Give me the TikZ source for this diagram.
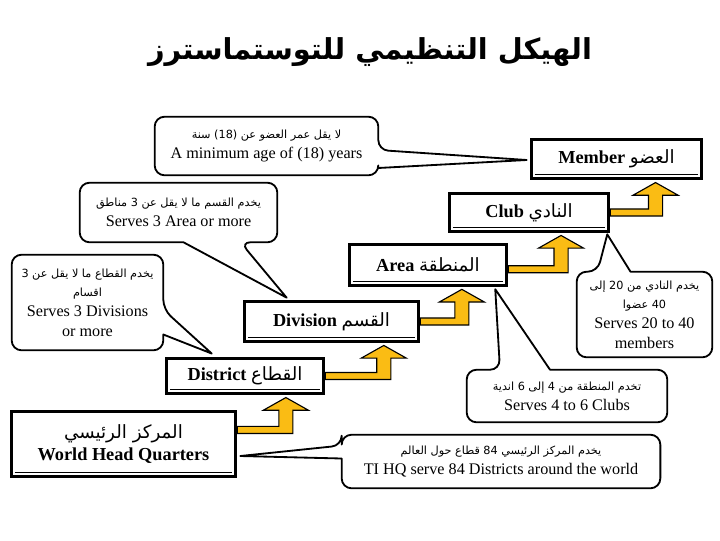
\documentclass[tikz,border=0pt]{standalone}
\usepackage{fontspec}
\setmainfont{Liberation Serif}
\newfontfamily\arabicfont[Script=Arabic]{DejaVu Sans}
\TeXXeTstate=1
\usetikzlibrary{calc}
\definecolor{tmgold}{RGB}{250,188,20}
\newcommand{\artext}[1]{{\arabicfont\beginR #1\endR}}
\newcommand{\arsmall}[1]{{\fontsize{8}{10}\selectfont\arabicfont\beginR #1\endR}}
% L-shaped block arrow: start point, target node, distance of the shaft from the target's right side
\newcommand{\goldarrow}[3]{%
  \filldraw[goldshaft] let \p1=#1, \p2=([xshift=-#3]#2.south east) in
    (\x1,\y1+2.5pt) -- (\x2-5pt,\y1+2.5pt) -- (\x2-5pt,\y2-10.5pt) -- (\x2-16pt,\y2-10.5pt)
    -- (\x2,\y2-1.5pt) -- (\x2+16pt,\y2-10.5pt) -- (\x2+5pt,\y2-10.5pt) -- (\x2+5pt,\y1-2.5pt)
    -- (\x1,\y1-2.5pt) -- cycle;}

\begin{document}
\begin{tikzpicture}[x=0.025cm,y=-0.025cm,
    rank/.style={draw,line width=2.6pt,fill=white,inner sep=2pt,align=center,
      font=\fontsize{13}{16}\selectfont},
    note/.style={inner sep=2pt,align=center,font=\fontsize{11.5}{14}\selectfont},
    bubble/.style={line width=1.3pt,line join=round},
    goldshaft/.style={fill=tmgold,draw=black,line width=0.8pt,line join=miter}]
  \useasboundingbox (0,0) rectangle (720,540);

  \node (title) at (370,52) {\fontsize{20.5}{24}\selectfont\bfseries\artext{الهيكل التنظيمي للتوستماسترز}};

  % the ranks
  \node[rank,minimum width=4.25cm,minimum height=0.98cm] (member) at (616.5,159) {\textbf{Member} \artext{العضو}};
  \node[rank,minimum width=3.97cm,minimum height=0.95cm] (club) at (529,212.5) {\textbf{Club} \artext{النادي}};
  \node[rank,minimum width=3.92cm,minimum height=1.02cm] (area) at (428,265) {\textbf{Area} \artext{المنطقة}};
  \node[rank,minimum width=4.35cm,minimum height=1.0cm] (div) at (331.5,321.5) {\textbf{Division} \artext{القسم}};
  \node[rank,minimum width=3.92cm,minimum height=0.88cm] (dist) at (245,376) {\textbf{District} \artext{القطاع}};
  \node[rank,minimum width=5.6cm,minimum height=1.62cm] (hq) at (123.5,444) {\artext{المركز الرئيسي}\\\textbf{World Head Quarters}};
  \foreach \b in {member,club,area,div,dist,hq}
    \draw[line width=0.5pt] ($(\b.south west)+(5,-6)$) -- ($(\b.south east)+(-5,-6)$);

  % the notes
  \node[note,minimum width=5.575cm,minimum height=1.45cm] (membernote) at (266.5,146)
    {\arsmall{لا يقل عمر العضو عن (18) سنة}\\A minimum age of (18) years};
  \node[note,minimum width=4.925cm,minimum height=1.475cm] (divnote) at (178.5,212.5)
    {\arsmall{يخدم القسم ما لا يقل عن 3 مناطق}\\Serves 3 Area or more};
  \node[note,minimum width=3.775cm,minimum height=2.375cm] (distnote) at (87.5,302.5)
    {\arsmall{يخدم القطاع ما لا يقل عن 3}\\\arsmall{اقسام}\\Serves 3 Divisions\\or more};
  \node[note,minimum width=3.375cm,minimum height=2.125cm] (clubnote) at (644.5,314.5)
    {\arsmall{يخدم النادي من 20 إلى}\\\arsmall{40 عضوا}\\Serves 20 to 40\\members};
  \node[note,minimum width=5.0cm,minimum height=1.3cm] (areanote) at (567,396)
    {\arsmall{تخدم المنطقة من 4 إلى 6 اندية}\\Serves 4 to 6 Clubs};
  \node[note,minimum width=7.95cm,minimum height=1.325cm] (hqnote) at (501,461.5)
    {\arsmall{يخدم المركز الرئيسي 84 قطاع حول العالم}\\TI HQ serve 84 Districts around the world};

  % bubbles
  \draw[bubble,rounded corners=7pt] (membernote.north) -- (membernote.north east) -- ($(membernote.east)+(0,4)$)
    [sharp corners] -- ($(member.west)+(-3,1)$) -- ($(membernote.east)+(0,22)$)
    [rounded corners=7pt] -- (membernote.south east) -- (membernote.south west) -- (membernote.north west) -- cycle;
  \draw[bubble,rounded corners=7pt] (divnote.north) -- (divnote.north east) -- (divnote.south east) -- ($(divnote.south)+(62,0)$)
    [sharp corners] -- ($(div.north west)+(44,-2)$) -- ($(divnote.south)+(5,0)$)
    [rounded corners=7pt] -- (divnote.south west) -- (divnote.north west) -- cycle;
  \draw[bubble,rounded corners=7pt] (distnote.north) -- (distnote.north east) -- ($(distnote.east)+(0,7)$)
    [sharp corners] -- ($(dist.north west)+(47,-3)$) -- ($(distnote.east)+(0,32)$)
    [rounded corners=7pt] -- (distnote.south east) -- (distnote.south west) -- (distnote.north west) -- cycle;
  \draw[bubble,rounded corners=7pt] (clubnote.south) -- (clubnote.south west) -- (clubnote.north west) -- ($(clubnote.north)+(-47,0)$)
    [sharp corners] -- ($(club.south east)+(-3,1)$) -- ($(clubnote.north)+(-14,0)$)
    [rounded corners=7pt] -- (clubnote.north east) -- (clubnote.south east) -- cycle;
  \draw[bubble,rounded corners=7pt] (areanote.south) -- (areanote.south west) -- (areanote.north west) -- ($(areanote.north)+(-67,0)$)
    [sharp corners] -- ($(area.south east)+(-13,2)$) -- ($(areanote.north)+(-17,0)$)
    [rounded corners=7pt] -- (areanote.north east) -- (areanote.south east) -- cycle;
  \draw[bubble,rounded corners=7pt] (hqnote.north) -- (hqnote.north west) -- ($(hqnote.west)+(0,-16)$)
    [sharp corners] -- ($(hq.east)+(3,12)$) -- ($(hqnote.west)+(0,-3)$)
    [rounded corners=7pt] -- (hqnote.south west) -- (hqnote.south east) -- (hqnote.north east) -- cycle;

  % gold arrows up the ranks
  \goldarrow{([yshift=10pt]hq.east)}{dist}{28pt}
  \goldarrow{(dist.east)}{div}{26pt}
  \goldarrow{(div.east)}{area}{33pt}
  \goldarrow{([yshift=-3pt]area.east)}{club}{35pt}
  \goldarrow{(club.east)}{member}{34pt}
\end{tikzpicture}
\end{document}
